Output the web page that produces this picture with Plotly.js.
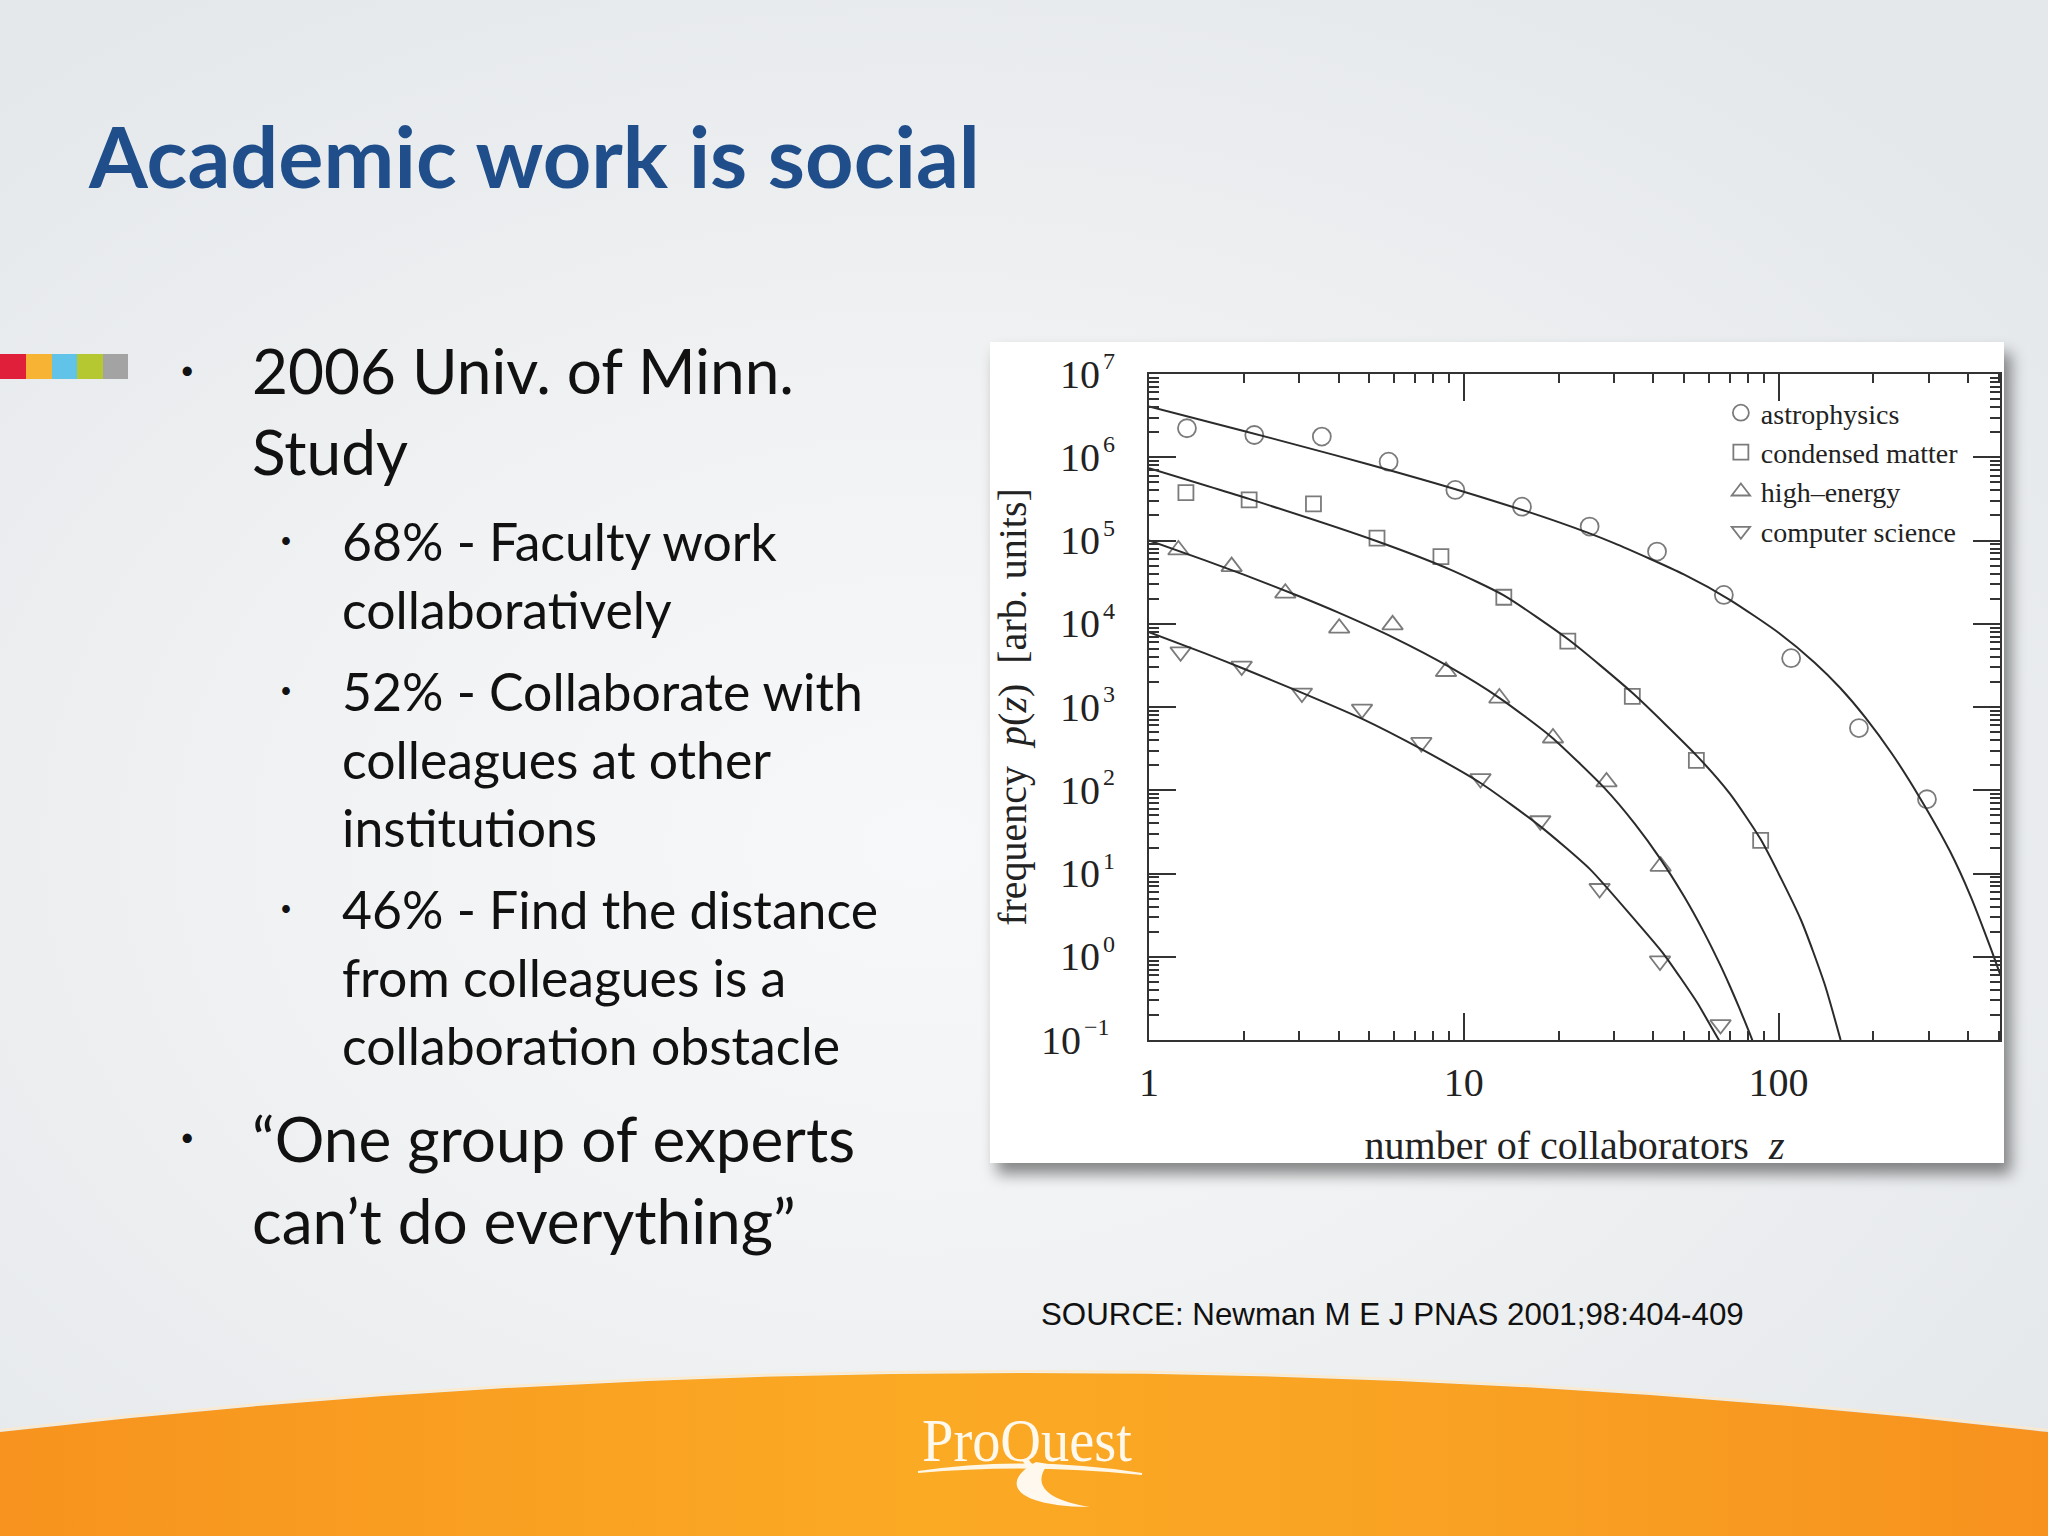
<!DOCTYPE html>
<html>
<head>
<meta charset="utf-8">
<script src="https://cdn.plot.ly/plotly-3.0.1.min.js"></script>
<style>
html,body{margin:0;padding:0;}
body{width:2048px;height:1536px;position:relative;overflow:hidden;
  background: radial-gradient(ellipse 1400px 1000px at 45% 55%, #F7F8F9 0%, #F0F2F3 45%, #E5E8EB 100%);
  font-family: Lato, "Open Sans", sans-serif;}
.t{position:absolute;white-space:nowrap;line-height:1.2;color:#111;}
#title{font-weight:700;color:#1F4E8A;font-size:87px;}
.l1{font-size:64px;}
.l2{font-size:52px;}
.b1{font-size:26px;}
.b2{font-size:21px;}
#deco{position:absolute;left:0;top:0;}
#box{position:absolute;left:990px;top:342px;width:1014px;height:821px;background:#fff;
  box-shadow: 7px 11px 14px rgba(0,0,0,0.45);}
#chart{position:absolute;left:990px;top:342px;width:1014px;height:845px;}
#src{font-family:"Liberation Sans",Arial,sans-serif;color:#111;font-size:30px;}
#logo{font-family:"Liberation Serif",serif;color:#FFF8EC;transform-origin:0 50%;font-size:62px;}
</style>
</head>
<body>
<svg id="deco" width="2048" height="1536" viewBox="0 0 2048 1536">
  <defs>
    <linearGradient id="og" x1="0" y1="0" x2="1" y2="0">
      <stop offset="0" stop-color="#F7931E"/>
      <stop offset="0.45" stop-color="#FBAA24"/>
      <stop offset="0.7" stop-color="#F9A223"/>
      <stop offset="1" stop-color="#F7921E"/>
    </linearGradient>
  </defs>
  <path d="M0,1432 Q1024,1314 2048,1432 L2048,1536 L0,1536 Z" fill="url(#og)"/>
  <path d="M0,1430 Q1024,1312 2048,1430" fill="none" stroke="#FFE8C4" stroke-width="2" opacity="0.8"/>
  <rect x="0" y="354" width="26" height="25" fill="#E0203A"/>
  <rect x="26" y="354" width="26" height="25" fill="#F7B334"/>
  <rect x="52" y="354" width="25" height="25" fill="#62C3E8"/>
  <rect x="77" y="354" width="26" height="25" fill="#B5C832"/>
  <rect x="103" y="354" width="25" height="25" fill="#A3A3A3"/>
  <path d="M918,1472 Q1030,1456 1142,1474 Q1030,1462 918,1472 Z" fill="#FFF6E6" stroke="#FFF6E6" stroke-width="2"/>
  <path d="M1036,1462 C1000,1482 1012,1506 1090,1507 C1045,1500 1032,1484 1048,1464 Z" fill="#FFF8EE"/>
</svg>

<div id="title" class="t" data-l="89" data-cy="156">Academic work is social</div>

<div class="t b1" data-l="180" data-cy="370">•</div>
<div class="t l1" data-l="252" data-cy="370" id="ref1">2006 Univ. of Minn.</div>
<div class="t l1" data-l="252" data-cy="451">Study</div>

<div class="t b2" data-l="280" data-cy="540">•</div>
<div class="t l2" data-l="342" data-cy="541">68% - Faculty work</div>
<div class="t l2" data-l="342" data-cy="609">collaboratively</div>
<div class="t b2" data-l="280" data-cy="690">•</div>
<div class="t l2" data-l="342" data-cy="691" id="ref2">52% - Collaborate with</div>
<div class="t l2" data-l="342" data-cy="759">colleagues at other</div>
<div class="t l2" data-l="342" data-cy="827">institutions</div>
<div class="t b2" data-l="280" data-cy="908">•</div>
<div class="t l2" data-l="342" data-cy="909">46% - Find the distance</div>
<div class="t l2" data-l="342" data-cy="977">from colleagues is a</div>
<div class="t l2" data-l="342" data-cy="1045">collaboration obstacle</div>

<div class="t b1" data-l="180" data-cy="1137">•</div>
<div class="t l1" data-l="252" data-cy="1138">“One group of experts</div>
<div class="t l1" data-l="252" data-cy="1220">can’t do everything”</div>

<div id="src" class="t" data-l="1041" data-cy="1315">SOURCE: Newman M E J PNAS 2001;98:404-409</div>
<div id="logo" class="t" data-l="922" data-cy="1440">ProQuest</div>

<div id="box"></div>
<div id="chart"></div>

<script>
// ---- data ----
const seriesNames = ["astrophysics", "condensed matter", "high\u2013energy", "computer science"];

const astroX = [1.32, 2.16, 3.54, 5.77, 9.4, 15.3, 25.1, 41.1, 67, 109.6, 180, 296];
const astroY = [2.23e6, 1.85e6, 1.77e6, 8.85e5, 4.05e5, 2.55e5, 1.47e5, 7.36e4, 2.22e4, 3.86e3, 558, 78];

const condX = [1.31, 2.08, 3.33, 5.30, 8.46, 13.4, 21.4, 34.3, 54.8, 87.7];
const condY = [3.76e5, 3.07e5, 2.75e5, 1.07e5, 6.4e4, 2.08e4, 6.2e3, 1.34e3, 228, 25];

const heX = [1.24, 1.83, 2.71, 4.02, 5.94, 8.78, 12.97, 19.2, 28.4, 42.2];
const heY = [7.7e4, 4.86e4, 2.33e4, 8.85e3, 9.7e3, 2.67e3, 1.28e3, 424, 126, 12.2];

const csX = [1.26, 1.97, 3.06, 4.75, 7.33, 11.3, 17.5, 27, 42, 65.4];
const csY = [4.6e3, 3.1e3, 1.47e3, 944, 375, 138, 43, 6.6, 0.89, 0.153];

// fitted curves
const astroFitX = [1, 2, 3, 5, 10, 20, 30, 50, 70, 100, 130, 157, 189, 230, 283, 350, 408, 472, 505];
const astroFitY = [4.07e6, 2.07e6, 1.38e6, 8.2e5, 3.86e5, 1.66e5, 9.3e4, 3.91e4, 1.94e4, 7.8e3, 3.43e3, 1.69e3, 741, 269, 77.6, 18.6, 5.25, 1.26, 0.62];

const condFitX = [1, 2.08, 5.3, 9.06, 13.4, 21.5, 34.3, 55.1, 70, 87.7, 117.5, 140, 157.4];
const condFitY = [7.4e5, 3.16e5, 9.8e4, 4.47e4, 2.19e4, 6.46e3, 1.48e3, 257, 91, 25.7, 2.82, 0.47, 0.1];

const heFitX = [1, 1.5, 2, 3, 4, 6, 9, 13, 19, 28, 35, 42, 50, 58, 65, 70, 75, 81, 83];
const heFitY = [1.0e5, 5.81e4, 3.89e4, 2.14e4, 1.36e4, 6.78e3, 3.03e3, 1.28e3, 434, 106, 39.2, 15.2, 5.35, 1.95, 0.82, 0.445, 0.243, 0.119, 0.094];

const csFitX = [1, 1.5, 2, 3, 4.74, 7.36, 11.27, 17.5, 25.2, 35, 43.2, 55.1, 60, 64.6, 66];
const csFitY = [7.94e3, 4.43e3, 2.88e3, 1.53e3, 724, 309, 123, 36.8, 11.2, 2.75, 1.07, 0.282, 0.162, 0.1, 0.085];

// tick labels: base "10" and its exponent
const xTickVals = [1, 10, 100];
const xTickText = ["1", "10", "100"];
const yTickVals = [0.1, 1, 10, 100, 1e3, 1e4, 1e5, 1e6, 1e7];
const yTickBase = ["10", "10", "10", "10", "10", "10", "10", "10", "10"];
const yTickExp = ["\u22121", "0", "1", "2", "3", "4", "5", "6", "7"];

// ---- slide text sizing ----
function fitGroup(cls, refEl, target){
  const els = document.querySelectorAll(cls);
  refEl.style.fontSize = '50px';
  const w = refEl.getBoundingClientRect().width;
  const fs = 50 * target / w;
  els.forEach(e => e.style.fontSize = fs + 'px');
  return fs;
}
function place(){
  const t = document.getElementById('title');
  t.style.fontSize = '50px';
  t.style.fontSize = (50 * 891 / t.getBoundingClientRect().width) + 'px';
  const fs1 = fitGroup('.l1', document.getElementById('ref1'), 542);
  const fs2 = fitGroup('.l2', document.getElementById('ref2'), 521);
  document.querySelectorAll('.b1').forEach(e => e.style.fontSize = (fs1*0.4) + 'px');
  document.querySelectorAll('.b2').forEach(e => e.style.fontSize = (fs2*0.4) + 'px');
  const s = document.getElementById('src');
  s.style.fontSize = '30px';
  s.style.fontSize = (30 * 703 / s.getBoundingClientRect().width) + 'px';
  const lg = document.getElementById('logo');
  lg.style.fontSize = '62px';
  lg.style.transform = 'none';
  const lw = lg.getBoundingClientRect().width;
  lg.style.transform = 'scaleX(' + (210 / lw) + ')';
  document.querySelectorAll('.t').forEach(e => {
    e.style.left = e.dataset.l + 'px';
    e.style.top = (parseFloat(e.dataset.cy) - e.offsetHeight / 2) + 'px';
  });
}
place();
if (document.fonts && document.fonts.ready) document.fonts.ready.then(place);

// ---- chart ----
function decadeMinors(lo, hi, maxv){
  const out = [];
  for (let d = lo; d <= hi; d *= 10) for (let m = 2; m <= 9; m++) { const v = m * d; if (v <= maxv) out.push(v); }
  return out;
}
const minorX = decadeMinors(1, 100, 505);
const minorY = decadeMinors(0.1, 1e6, 1e7);

const gray = '#7b7b7b';
const lineCol = '#2b2b2b';
function pts(x, y, name, sym){
  return {x: x, y: y, name: name, type: 'scatter', mode: 'markers',
    marker: {symbol: sym, size: sym.indexOf('square') === 0 ? 15 : 18, color: gray, line: {color: gray, width: 1.8}},
    cliponaxis: true};
}
function fitLine(x, y){
  return {x: x, y: y, type: 'scatter', mode: 'lines', showlegend: false, hoverinfo: 'skip',
    line: {color: lineCol, width: 2, shape: 'spline', smoothing: 0.6}};
}
const traces = [
  pts(astroX, astroY, seriesNames[0], 'circle-open'),
  pts(condX, condY, seriesNames[1], 'square-open'),
  pts(heX, heY, seriesNames[2], 'triangle-up-open'),
  pts(csX, csY, seriesNames[3], 'triangle-down-open'),
  fitLine(astroFitX, astroFitY),
  fitLine(condFitX, condFitY),
  fitLine(heFitX, heFitY),
  fitLine(csFitX, csFitY)
];
const serif = 'Liberation Serif, Times New Roman, serif';

// y tick labels drawn as "10" plus a small raised exponent, placed at the axis' tick values
const tickAnn = [];
yTickVals.forEach((v, i) => {
  const neg = yTickExp[i].length > 1;
  tickAnn.push({xref: 'paper', yref: 'y', x: 0, y: Math.log10(v), text: yTickBase[i],
    xanchor: 'right', yanchor: 'middle', xshift: neg ? -67 : -48, showarrow: false, borderpad: 0,
    font: {family: serif, size: 40, color: '#222'}});
  tickAnn.push({xref: 'paper', yref: 'y', x: 0, y: Math.log10(v), text: yTickExp[i],
    xanchor: 'left', yanchor: 'middle', xshift: neg ? -66 : -47, yshift: 13, showarrow: false, borderpad: 0,
    font: {family: serif, size: 24, color: '#222'}});
});

const axisCommon = {
  showgrid: false, zeroline: false, showline: true, linecolor: '#333', linewidth: 2,
  mirror: 'allticks', ticks: 'inside', ticklen: 27, tickwidth: 2, tickcolor: '#333',
  tickfont: {family: serif, size: 40, color: '#222'}, tickmode: 'array'
};
const layout = {
  width: 1014, height: 845,
  margin: {l: 159, r: 4, t: 32, b: 147},
  paper_bgcolor: 'rgba(0,0,0,0)', plot_bgcolor: '#ffffff',
  showlegend: true,
  legend: {x: 0.672, y: 0.979, xanchor: 'left', yanchor: 'top', bgcolor: 'rgba(0,0,0,0)',
    font: {family: serif, size: 28, color: '#222'}, itemsizing: 'trace', tracegroupgap: 0},
  annotations: tickAnn,
  xaxis: Object.assign({}, axisCommon, {
    type: 'log', range: [0, Math.log10(505)],
    tickvals: xTickVals, ticktext: xTickText, ticklabelstandoff: 6,
    minor: {tickmode: 'array', tickvals: minorX, ticks: 'inside', ticklen: 9, tickwidth: 2, tickcolor: '#333'},
    title: {text: 'number of collaborators\u00A0\u00A0<i>z</i>', font: {family: serif, size: 40, color: '#222'}, standoff: 27}
  }),
  yaxis: Object.assign({}, axisCommon, {
    type: 'log', range: [-1, 7],
    tickvals: yTickVals, showticklabels: false,
    minor: {tickmode: 'array', tickvals: minorY, ticks: 'inside', ticklen: 10, tickwidth: 2, tickcolor: '#333'},
    title: {text: 'frequency\u00A0\u00A0<i>p</i>(<i>z</i>)\u00A0\u00A0[arb. units]', font: {family: serif, size: 40, color: '#222'}, standoff: 114}
  })
};
Plotly.newPlot('chart', traces, layout, {displayModeBar: false});
</script>
</body>
</html>
